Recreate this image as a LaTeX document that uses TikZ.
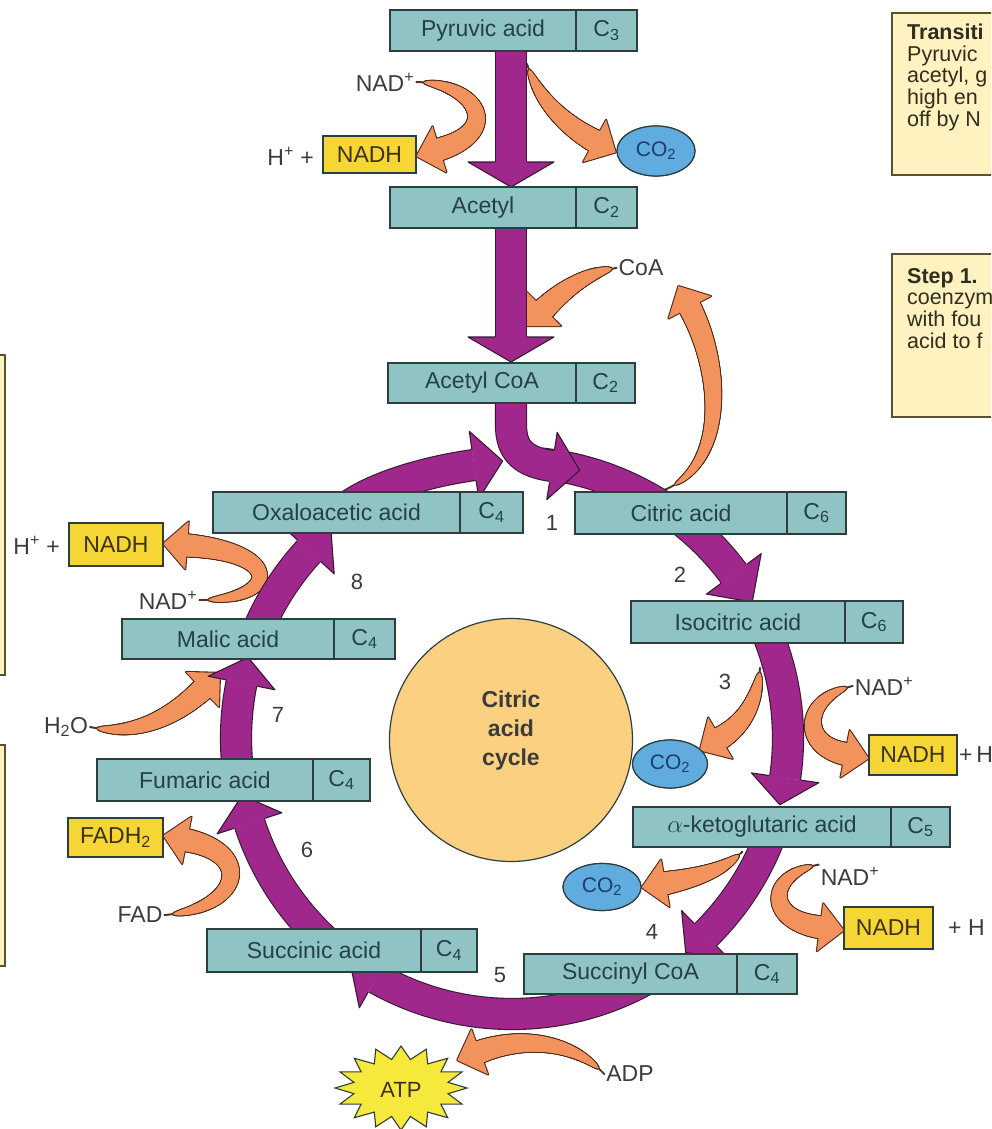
\documentclass[tikz,border=0pt]{standalone}
\usepackage{fontspec}
\setmainfont{Liberation Sans}
\usetikzlibrary{decorations.markings,shapes.geometric,calc}
\definecolor{purp}{RGB}{160,40,140}
\definecolor{pedge}{RGB}{55,25,50}
\definecolor{oface}{RGB}{242,146,92}
\definecolor{oedge}{RGB}{80,45,30}
\definecolor{tealbox}{RGB}{144,196,196}
\definecolor{bedge}{RGB}{45,62,62}
\definecolor{btext}{RGB}{35,65,70}
\definecolor{ynadh}{RGB}{246,214,52}
\definecolor{ntext}{RGB}{60,50,20}
\definecolor{co2blue}{RGB}{96,172,222}
\definecolor{co2text}{RGB}{30,60,110}
\definecolor{circfill}{RGB}{251,208,128}
\definecolor{cream}{RGB}{253,242,192}
\definecolor{creamedge}{RGB}{90,80,50}
\definecolor{ltext}{RGB}{60,60,60}
\definecolor{itext}{RGB}{50,45,30}
\definecolor{starfill}{RGB}{247,232,60}

\newcommand\tphead{24}
\newcommand\taperdot[3]{%
  \pgfmathsetmacro\tpd{\pgfkeysvalueof{/pgf/decoration/mark info/distance from start}}%
  \pgfmathsetmacro\tpL{\pgfdecoratedpathlength-\tphead}%
  \ifdim\tpd pt<\tpL pt\relax
    \pgfmathsetmacro\tpr{#3*sqrt(max(0,(\tpd/\tpL-0.06)/0.94))+#1}%
    \fill[#2] (0pt,0pt) circle[radius=\tpr pt];%
  \fi}

\tikzset{
  sidearrow/.style={
    postaction={decorate,decoration={markings,mark=between positions 0 and 1 step 0.8pt with {\taperdot{1.1}{oedge}{#1}}}},
    postaction={decorate,decoration={markings,mark=at position -24pt with {\path[fill=oedge,draw=oedge,line width=2.2pt,line join=round] (0pt,-24pt) -- (24pt,0pt) -- (0pt,24pt) -- cycle;}}},
    postaction={decorate,decoration={markings,mark=between positions 0 and 1 step 0.8pt with {\taperdot{0}{oface}{#1}}}},
    postaction={decorate,decoration={markings,mark=at position -24pt with {\fill[oface] (0pt,-24pt) -- (24pt,0pt) -- (0pt,24pt) -- cycle;}}}},
  sidearrow/.default=11,
  pshaft/.style={draw=pedge,line width=1.1pt,double=purp,double distance=30pt},
  pheadline/.style={draw=pedge,line width=1.1pt,line join=round},
  abox/.style={draw=bedge,line width=1.3pt,fill=tealbox,text=btext,inner sep=0pt,outer sep=0pt,anchor=north west,font=\fontsize{23}{27}\selectfont},
  ybox/.style={draw=bedge,line width=1.3pt,fill=ynadh,text=ntext,inner sep=0pt,outer sep=0pt,anchor=north west,font=\fontsize{23}{27}\selectfont},
  co2/.style={ellipse,draw=bedge,line width=1.2pt,fill=co2blue,text=co2text,inner sep=0pt,font=\fontsize{21}{25}\selectfont},
  lbl/.style={text=ltext,inner sep=2pt,font=\fontsize{23}{27}\selectfont},
  num/.style={text=ltext,inner sep=0pt,font=\fontsize{22}{26}\selectfont},
  info/.style={text=itext,inner sep=0pt,anchor=base west,font=\fontsize{21.5}{22}\selectfont},
  infobox/.style={fill=cream,draw=creamedge,line width=1.3pt},
}

\newcommand\acid[8]{%
  \node[abox,minimum width=#4pt,minimum height=#6pt] (#1) at (#2,#3) {#7};
  \node[abox,minimum width=#5pt,minimum height=#6pt] (#1c) at (#1.north east) {C\textsubscript{#8}};}

\newcommand\ringseg[3]{%
  \draw[pshaft] plot[domain=#1:#2,samples=50] ({512+276*cos(\x)},{738+276*sin(\x)});
  \fill[purp] ({512+242*cos(#2)},{738+242*sin(#2)}) -- ({512+276*cos(#3)},{738+276*sin(#3)}) -- ({512+310*cos(#2)},{738+310*sin(#2)}) -- cycle;
  \draw[pheadline] ({512+259.9*cos(#2)},{738+259.9*sin(#2)}) -- ({512+242*cos(#2)},{738+242*sin(#2)}) -- ({512+276*cos(#3)},{738+276*sin(#3)}) -- ({512+310*cos(#2)},{738+310*sin(#2)}) -- ({512+292.1*cos(#2)},{738+292.1*sin(#2)});}

\begin{document}
\begin{tikzpicture}[x=1pt,y=-1pt]
\useasboundingbox (0,0) rectangle (991,1129);
\fill[white] (0,0) rectangle (991,1129);
\clip (0,0) rectangle (991,1129);

% side info boxes
\draw[infobox] (892,13) rectangle (1010,175);
\draw[infobox] (892,254) rectangle (1010,417);
\draw[infobox] (-20,355) rectangle (5,675);
\draw[infobox] (-20,745) rectangle (5,966);
\node[info] (t1) at (907,40) {\bfseries Transiti};
\node[info] (t2) at (907,61.5) {Pyruvic};
\node[info] (t3) at (907,83) {acetyl, g};
\node[info] (t4) at (907,105) {high en};
\node[info] (t5) at (907,126.5) {off by N};
\node[info] (t6) at (907,283) {\bfseries Step 1.};
\node[info] (t7) at (907,304) {coenzym};
\node[info] (t8) at (907,326) {with fou};
\node[info] (t9) at (907,348) {acid to f};

% central circle
\node[circle,draw=bedge,line width=1.2pt,fill=circfill,minimum size=243pt] (cyc) at (511,740) {};
\node[align=center,inner sep=0pt,text=ltext,font=\fontsize{23}{29}\selectfont\bfseries] (cyct) at (511,731) {Citric\\acid\\cycle};

% ATP star
\path[fill=starfill,draw=bedge,line width=1.1pt] (467,1088) \foreach \k in {1,...,31}{ -- ({401+(isodd(\k)?48:66)*cos(\k*11.25)},{1088+(isodd(\k)?29:42)*sin(\k*11.25)}) } -- cycle;
\node[text=ntext,inner sep=0pt,font=\fontsize{22}{26}\selectfont] (atp) at (401,1090) {ATP};

% labels
\node[lbl] (nadA) at (385,82) {NAD\textsuperscript{+}};
\node[lbl,anchor=east] (hpA) at (316,156) {H\textsuperscript{+} +};
\node[lbl] (coa) at (641,268) {CoA};
\node[lbl] (nadB) at (168,600) {NAD\textsuperscript{+}};
\node[lbl,anchor=east] (hpB) at (62,545) {H\textsuperscript{+} +};
\node[lbl] (h2o) at (66,727) {H\textsubscript{2}O};
\node[lbl] (fad) at (140,915) {FAD};
\node[lbl] (adp) at (630,1074) {ADP};
\node[lbl] (nadC) at (884,686) {NAD\textsuperscript{+}};
\node[lbl] (nadD) at (850,876) {NAD\textsuperscript{+}};
\node[lbl,anchor=west] (hpC) at (957,755) {+\thinspace H};
\node[lbl,anchor=west] (hpD) at (946,928) {+ H};

% CO2 ellipses
\node[co2,minimum width=78pt,minimum height=50pt] (co2A) at (656,151) {CO\textsubscript{2}};
\node[co2,minimum width=75pt,minimum height=48pt] (co2B) at (670,764) {CO\textsubscript{2}};
\node[co2,minimum width=78pt,minimum height=47pt] (co2C) at (602,887) {CO\textsubscript{2}};

% yellow boxes
\node[ybox,minimum width=93pt,minimum height=37pt] (nadhA) at (323,136) {NADH};
\node[ybox,minimum width=94pt,minimum height=43pt] (nadhB) at (69,523) {NADH};
\node[ybox,minimum width=88pt,minimum height=40pt] (nadhC) at (869,735) {NADH};
\node[ybox,minimum width=89pt,minimum height=42pt] (nadhD) at (844,907) {NADH};
\node[ybox,minimum width=95pt,minimum height=39pt] (fadh) at (68,818) {FADH\textsubscript{2}};

% named coordinates for orange arrows
\coordinate (pyrR) at (527,64);
\coordinate (acR) at (528,327);
\coordinate (citT) at (664,490);
\coordinate (coaT) at (677,287);
\coordinate (h2oT) at (219,672);
\coordinate (atpT) at (458,1062);
\coordinate (r3) at (760,668);
\coordinate (r4) at (742,852);

% orange side arrows
\path[sidearrow] (nadA.east) .. controls (482,84) and (510,140) .. (nadhA.east);
\path[sidearrow] (pyrR) .. controls (540,105) and (575,135) .. (co2A.west);
\path[sidearrow] (coa.west) .. controls (588,272) and (556,292) .. (acR);
\path[sidearrow] (citT) .. controls (735,462) and (720,345) .. (coaT);
\path[sidearrow] (nadB.east) .. controls (285,600) and (285,545) .. (nadhB.east);
\path[sidearrow] (h2o.east) .. controls (140,738) and (185,712) .. (h2oT);
\path[sidearrow] (fad.east) .. controls (248,908) and (258,842) .. (fadh.east);
\path[sidearrow] (adp.west) .. controls (575,1042) and (515,1030) .. (atpT);
\path[sidearrow] (r3) .. controls (757,705) and (740,735) .. (co2B.30);
\path[sidearrow] (nadC.west) .. controls (795,700) and (800,760) .. (nadhC.west);
\path[sidearrow] (r4) .. controls (722,872) and (690,880) .. (co2C.east);
\path[sidearrow] (nadD.north west) .. controls (760,876) and (765,932) .. (nadhD.west);

% purple vertical arrows
\coordinate (v1a) at (511,51);
\coordinate (v1b) at (511,162);
\coordinate (v2a) at (511,228);
\coordinate (v2b) at (511,337);
\draw[pshaft] (v1a) -- (v1b);
\fill[purp] (468,162) -- (511,187) -- (554,162) -- cycle;
\draw[pheadline] (494.9,162) -- (468,162) -- (511,187) -- (554,162) -- (527.1,162);
\draw[pshaft] (v2a) -- (v2b);
\fill[purp] (468,337) -- (511,362) -- (554,337) -- cycle;
\draw[pheadline] (494.9,337) -- (468,337) -- (511,362) -- (554,337) -- (527.1,337);

% ring
\coordinate (aS) at (335,518);
\coordinate (aB) at (474,465);
\draw[pshaft] (aS) .. controls (360,490) and (424,472) .. (aB);
\fill[purp] (478.7,498.7) -- (502.7,461) -- (469.3,431.3) -- cycle;
\draw[pheadline] (476.2,480.9) -- (478.7,498.7) -- (502.7,461) -- (469.3,431.3) -- (471.8,449.1);
\ringseg{276}{323.5}{330.5}
\ringseg{-27}{8.3}{14}
\ringseg{20}{45.5}{51}
\ringseg{60}{119.5}{126}
\ringseg{132}{162}{168}
\ringseg{172}{191.5}{197}
\ringseg{200}{222.7}{229}

% acetyl CoA into cycle
\coordinate (acS) at (511,403);
\coordinate (acB) at (552,466);
\draw[pshaft] (acS) -- (511,425) .. controls (511,452) and (525,462) .. (acB);
\fill[purp] (546.8,499.6) -- (579.7,470.3) -- (557.2,432.4) -- cycle;
\draw[pheadline] (549.6,481.9) -- (546.8,499.6) -- (579.7,470.3) -- (557.2,432.4) -- (554.4,450.1);

% teal boxes
\acid{pyr}{390}{10}{186}{61}{41}{Pyruvic acid}{3}
\acid{acet}{390}{187}{186}{61}{41}{Acetyl}{2}
\acid{acoa}{388}{363}{188}{59}{40}{Acetyl CoA}{2}
\acid{cit}{575}{492}{212}{59}{42}{Citric acid}{6}
\acid{oxa}{213}{492}{247}{63}{41}{Oxaloacetic acid}{4}
\acid{iso}{631}{601}{214}{58}{42}{Isocitric acid}{6}
\acid{mal}{122}{619}{212}{61}{40}{Malic acid}{4}
\acid{akg}{633}{807}{258}{59}{40}{$\alpha$-ketoglutaric acid}{5}
\acid{fum}{97}{759}{216}{57}{42}{Fumaric acid}{4}
\acid{suc}{207}{929}{214}{56}{43}{Succinic acid}{4}
\acid{scoa}{524}{954}{213}{60}{40}{Succinyl CoA}{4}

% yellow boxes and CO2 redrawn on top of arrow tips
\node[ybox,minimum width=93pt,minimum height=37pt] at (323,136) {NADH};
\node[ybox,minimum width=94pt,minimum height=43pt] at (69,523) {NADH};
\node[ybox,minimum width=88pt,minimum height=40pt] at (869,735) {NADH};
\node[ybox,minimum width=89pt,minimum height=42pt] at (844,907) {NADH};
\node[ybox,minimum width=95pt,minimum height=39pt] at (68,818) {FADH\textsubscript{2}};
\node[co2,minimum width=78pt,minimum height=50pt] at (656,151) {CO\textsubscript{2}};
\node[co2,minimum width=75pt,minimum height=48pt] at (670,764) {CO\textsubscript{2}};
\node[co2,minimum width=78pt,minimum height=47pt] at (602,887) {CO\textsubscript{2}};

% step numbers
\node[num] (n1) at (552,523) {1};
\node[num] (n2) at (680,575) {2};
\node[num] (n3) at (725,682) {3};
\node[num] (n4) at (652,932) {4};
\node[num] (n5) at (500,975) {5};
\node[num] (n6) at (307,850) {6};
\node[num] (n7) at (278,715) {7};
\node[num] (n8) at (357,582) {8};
\end{tikzpicture}
\end{document}
